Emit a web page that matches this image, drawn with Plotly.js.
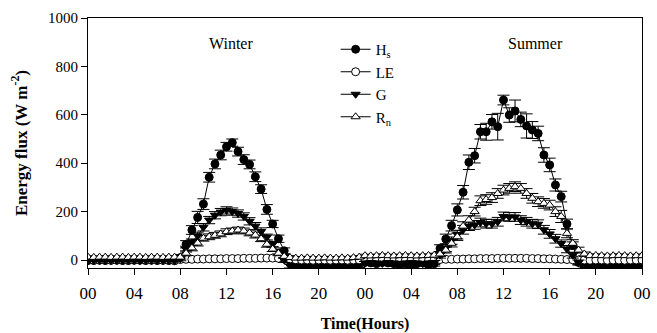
<!DOCTYPE html>
<html>
<head>
<meta charset="utf-8">
<script src="https://cdn.plot.ly/plotly-3.0.1.min.js"></script>
<style>html,body{margin:0;padding:0;background:#fff;}#chart{width:657px;height:333px;}</style>
</head>
<body>
<div id="chart"></div>
<script>
// Half-hourly time grid (hours since start of winter day; 24-48 = summer day)
const hours = Array.from({length: 97}, (_, i) => i * 0.5);

const tickVals = [0, 4, 8, 12, 16, 20, 24, 28, 32, 36, 40, 44, 48];
const tickText = ['00', '04', '08', '12', '16', '20', '00', '04', '08', '12', '16', '20', '00'];

// Sensible heat flux Hs (W m-2)
const Hs = [
  -2,-2,-1,-2,-1,-1,-2,-2,-1,-1,-2,-1,-2,-1,-2,-3,
  10,65,124,176,231,342,397,434,468,485,448,415,395,344,293,209,149,88,38,0,
  -15,-20,-20,-22,-20,-18,-20,-22,-20,-18,-20,-15,
  -10,-12,-15,-10,-12,-15,-20,-15,-25,-15,-12,-20,
  -15,48,87,142,207,280,404,431,530,530,571,551,661,599,616,581,554,537,523,434,393,310,262,149,60,-10,-25,
  -22,-20,-20,-18,-20,-22,-20,-20,-18,
  -15
];
const HsErr = [
  5,5,5,5,5,5,5,5,5,5,5,5,5,5,5,5,
  12,15,18,25,22,20,20,20,18,15,18,20,18,20,18,20,15,15,12,10,
  8,8,8,8,8,8,8,8,8,8,8,8,
  8,8,8,8,8,8,8,8,8,8,8,8,
  10,15,20,22,25,28,30,30,30,35,30,55,20,30,45,30,50,35,30,30,28,25,22,20,15,10,8,
  8,8,8,8,8,8,8,8,8,
  8
];

// Latent heat flux LE (W m-2)
const LE = [
  0,-1,0,0,-1,0,0,-1,0,0,-1,0,0,-1,0,-2,
  2,3,3,4,4,5,5,5,6,6,6,7,7,7,8,8,8,7,6,4,
  1,0,0,-1,0,0,-1,0,0,-1,0,0,
  0,-2,0,-1,0,-2,0,-1,0,-2,0,-1,
  1,2,3,3,4,4,5,5,6,6,6,7,7,7,7,7,7,6,6,5,5,4,3,2,1,
  0,0,-1,0,0,-1,0,0,-1,0,0,0
];
const LEErr = Array(97).fill(2);

// Soil heat flux G (W m-2)
const G = [
  -2,-2,-1,-2,-2,-1,-2,-2,-1,-2,-2,-1,-2,-2,-1,-3,
  5,45,75,100,135,165,185,198,205,200,192,180,160,140,118,95,65,35,0,-25,
  -33,-35,-34,-35,-33,-34,-35,-33,-34,-32,-30,-25,
  -12,-10,-12,-14,-10,-12,-14,-12,-10,-12,-14,-12,
  -10,20,50,80,105,125,140,145,155,150,150,158,180,178,178,165,158,150,148,125,108,88,68,45,20,-10,-28,
  -30,-32,-30,-31,-30,-32,-30,-31,-30,-28
];
const GErr = [
  4,4,4,4,4,4,4,4,4,4,4,4,4,4,4,4,
  8,12,12,15,15,15,15,15,15,15,15,15,15,15,15,12,12,10,10,8,
  6,6,6,6,6,6,6,6,6,6,6,6,
  6,6,6,6,6,6,6,6,6,6,6,6,
  8,12,15,15,18,18,18,18,18,18,18,18,18,18,18,18,18,18,18,18,18,18,15,15,12,10,8,
  6,6,6,6,6,6,6,6,6,6
];

// Net radiation Rn (W m-2)
const Rn = [
  12,11,12,12,11,12,12,11,12,12,11,12,12,11,12,12,
  12,28,50,70,90,96,102,108,117,120,124,120,112,103,88,65,45,28,15,10,
  8,8,9,8,8,9,8,8,9,8,10,12,
  18,17,18,19,18,17,18,19,18,17,18,19,
  20,25,41,69,96,140,165,200,245,250,258,275,289,296,303,296,275,255,241,234,227,200,180,110,69,41,25,
  18,19,18,17,18,19,18,17,18,18
];
const RnErr = [
  5,5,5,5,5,5,5,5,5,5,5,5,5,5,5,5,
  8,10,12,12,12,12,12,12,12,12,12,12,12,12,12,12,10,10,8,8,
  6,6,6,6,6,6,6,6,6,6,6,6,
  6,6,6,6,6,6,6,6,6,6,6,6,
  8,10,12,15,15,18,18,18,20,20,20,20,20,20,20,20,20,20,20,20,20,20,25,18,15,12,8,
  6,6,6,6,6,6,6,6,6,6
];

const seriesNames = ['H<sub>s</sub>', 'LE', 'G', 'R<sub>n</sub>'];
const seasonLabels = ['Winter', 'Summer'];

function mk(name, y, err, symbol, fill) {
  return {
    x: hours, y: y, name: name, type: 'scatter', mode: 'lines+markers',
    line: {color: '#000', width: 1},
    marker: {symbol: symbol, size: 8, color: fill, line: {color: '#000', width: 1}},
    error_y: {type: 'data', array: err, visible: true, color: '#000', thickness: 1, width: 6}
  };
}

const data = [
  mk(seriesNames[0], Hs, HsErr, 'circle', '#000'),
  mk(seriesNames[1], LE, LEErr, 'circle', '#fff'),
  mk(seriesNames[2], G, GErr, 'triangle-down', '#000'),
  mk(seriesNames[3], Rn, RnErr, 'triangle-up', '#fff')
];

const serif = 'Liberation Serif, Times New Roman, serif';

const layout = {
  width: 657, height: 333,
  margin: {l: 88, r: 15, t: 18, b: 65},
  paper_bgcolor: '#fff', plot_bgcolor: '#fff',
  font: {family: serif, color: '#000', size: 16},
  showlegend: true,
  legend: {
    x: 0.447, y: 0.94, xanchor: 'left', yanchor: 'top',
    bgcolor: 'rgba(0,0,0,0)', borderwidth: 0,
    font: {family: serif, size: 15, color: '#000'},
    tracegroupgap: 0
  },
  xaxis: {
    range: [0, 48], tickvals: tickVals, ticktext: tickText,
    showgrid: false, zeroline: false,
    showline: true, mirror: true, linecolor: '#000', linewidth: 1,
    ticks: 'outside', ticklen: 6, tickcolor: '#000', tickwidth: 1,
    ticklabelstandoff: 4,
    tickfont: {family: serif, size: 17, color: '#000'},
    title: {text: '<b>Time(Hours)</b>', font: {family: serif, size: 16, color: '#000'}, standoff: 22}
  },
  yaxis: {
    range: [-33, 1000], tickvals: [0, 200, 400, 600, 800, 1000],
    showgrid: false, zeroline: false,
    showline: true, mirror: true, linecolor: '#000', linewidth: 1,
    ticks: 'outside', ticklen: 6, tickcolor: '#000', tickwidth: 1,
    tickfont: {family: serif, size: 15, color: '#000'},
    title: {text: '<b>Energy flux (W m<sup>-2</sup>)</b>', font: {family: serif, size: 17, color: '#000'}, standoff: 16}
  },
  annotations: [
    {x: 12.4, y: 893, xref: 'x', yref: 'y', text: seasonLabels[0], showarrow: false, font: {family: serif, size: 16, color: '#000'}},
    {x: 38.8, y: 893, xref: 'x', yref: 'y', text: seasonLabels[1], showarrow: false, font: {family: serif, size: 16, color: '#000'}}
  ]
};

Plotly.newPlot('chart', data, layout, {displayModeBar: false, staticPlot: true});
</script>
</body>
</html>
